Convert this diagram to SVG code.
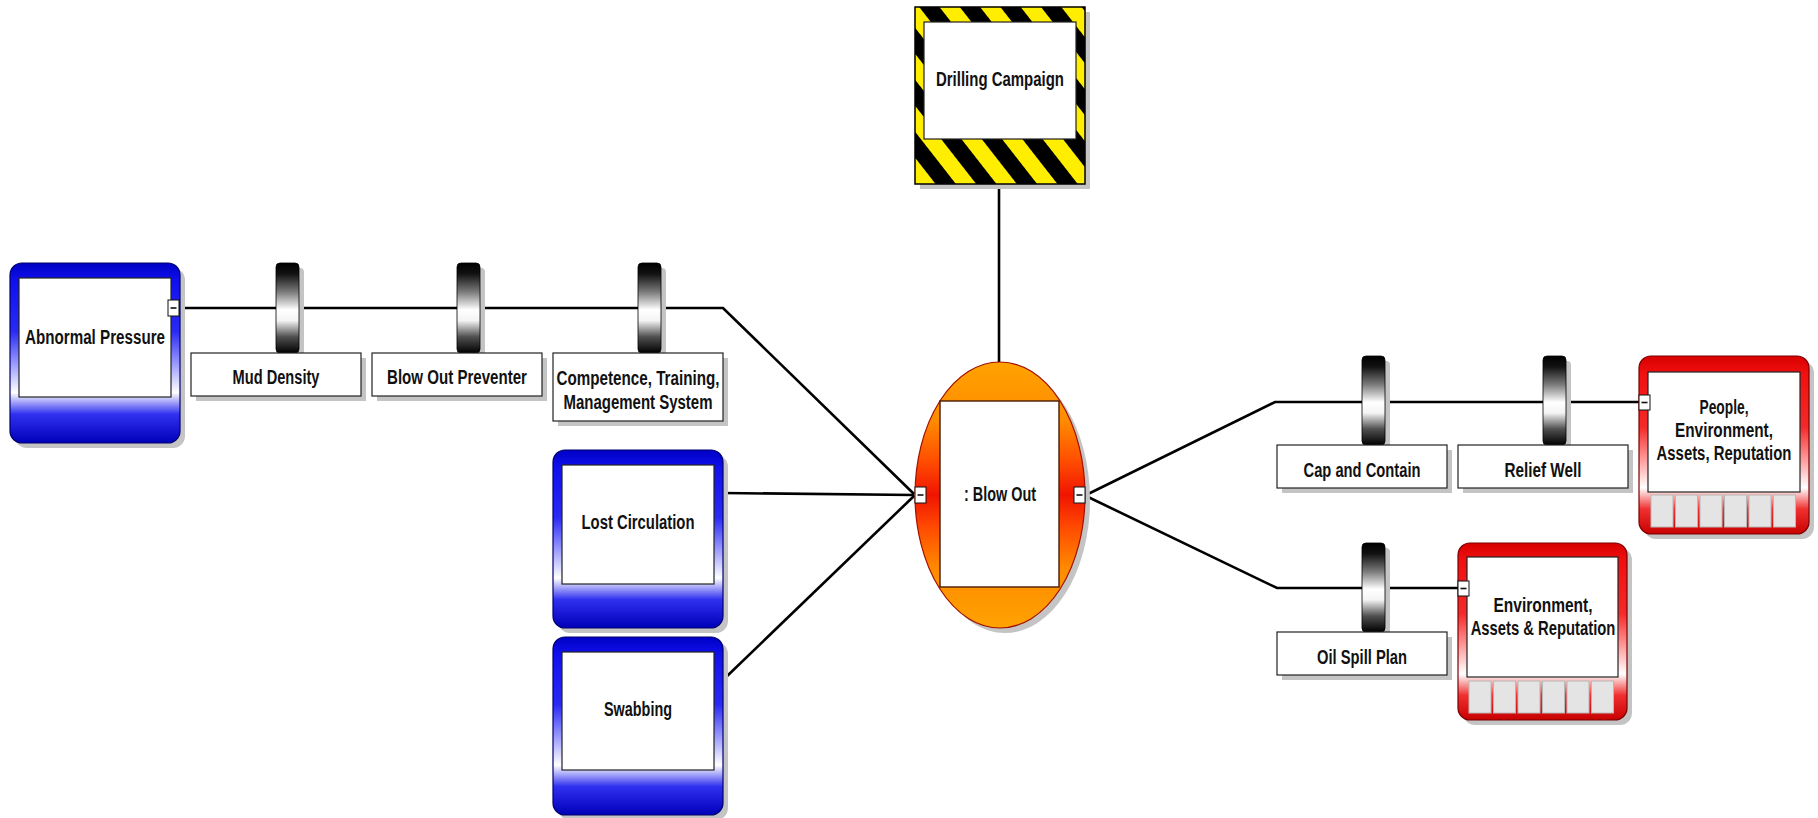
<svg xmlns="http://www.w3.org/2000/svg" width="1818" height="818" viewBox="0 0 1818 818">
<style>
.t{font-family:"Liberation Sans","DejaVu Sans",sans-serif;font-weight:bold;font-size:19.5px;fill:#111;text-anchor:middle}
.sh{fill:#c4c4c4}
.inner{fill:#fff;stroke:#222;stroke-width:1.2}
.lbl{fill:#fff;stroke:#222;stroke-width:1.2}
.bar{fill:url(#gBar);stroke:#000;stroke-width:0.8}
.port{fill:#fff;stroke:#111;stroke-width:1}
.pm{stroke:#111;stroke-width:1.6}
.sq{fill:#e4e4e4;stroke:#b8b8b8;stroke-width:1}
.blue{fill:url(#gBlue);stroke:#00006a;stroke-width:1.2}
.red{fill:url(#gRed);stroke:#7a0000;stroke-width:1.2}
.conn{fill:none;stroke:#000;stroke-width:2.6;stroke-linejoin:miter}
</style>
<defs>
<linearGradient id="gBlue" x1="0" y1="0" x2="0" y2="1">
<stop offset="0" stop-color="#0000c4"/>
<stop offset="0.1" stop-color="#1010ee"/>
<stop offset="0.38" stop-color="#2a2af4"/>
<stop offset="0.56" stop-color="#9a9aff"/>
<stop offset="0.72" stop-color="#ffffff"/>
<stop offset="0.84" stop-color="#3030f0"/>
<stop offset="1" stop-color="#0000b8"/>
</linearGradient>
<linearGradient id="gRed" x1="0" y1="0" x2="0" y2="1">
<stop offset="0" stop-color="#d80000"/>
<stop offset="0.1" stop-color="#f01010"/>
<stop offset="0.4" stop-color="#f42a2a"/>
<stop offset="0.58" stop-color="#ff9a9a"/>
<stop offset="0.74" stop-color="#ffffff"/>
<stop offset="0.86" stop-color="#f03030"/>
<stop offset="1" stop-color="#c80000"/>
</linearGradient>
<linearGradient id="gBar" x1="0" y1="0" x2="0" y2="1">
<stop offset="0" stop-color="#000"/>
<stop offset="0.12" stop-color="#111"/>
<stop offset="0.32" stop-color="#7a7a7a"/>
<stop offset="0.52" stop-color="#ffffff"/>
<stop offset="0.64" stop-color="#f4f4f4"/>
<stop offset="0.82" stop-color="#505050"/>
<stop offset="1" stop-color="#000"/>
</linearGradient>
<linearGradient id="gEll" x1="0" y1="0" x2="0" y2="1">
<stop offset="0" stop-color="#ffa200"/>
<stop offset="0.22" stop-color="#ff8c00"/>
<stop offset="0.38" stop-color="#ff4a00"/>
<stop offset="0.5" stop-color="#f01400"/>
<stop offset="0.62" stop-color="#ff4a00"/>
<stop offset="0.78" stop-color="#ff8c00"/>
<stop offset="1" stop-color="#ffa200"/>
</linearGradient>
<pattern id="haz" patternUnits="userSpaceOnUse" width="32" height="32" patternTransform="rotate(-38)">
<rect x="0" y="0" width="16" height="32" fill="#ffee00"/>
<rect x="16" y="0" width="16" height="32" fill="#000"/>
</pattern>
</defs>
<rect width="1818" height="818" fill="#fff"/>

<g id="connectors">
<polyline class="conn" points="179,308 723,308 914,494"/>
<line class="conn" x1="723" y1="493" x2="914" y2="495"/>
<line class="conn" x1="723" y1="680" x2="914" y2="496"/>
<line class="conn" x1="999" y1="184" x2="999" y2="362"/>
<polyline class="conn" points="1086,495 1275,402 1639,402"/>
<polyline class="conn" points="1086,496 1277,588 1458,588"/>
</g>

<g id="abnormal-pressure">
<rect class="sh" x="15" y="268" width="170" height="180" rx="12"/>
<rect class="blue" x="10" y="263" width="170" height="180" rx="12"/>
<rect class="inner" x="19" y="278" width="152" height="119"/>
<text class="t" x="95" y="344" textLength="140" lengthAdjust="spacingAndGlyphs">Abnormal Pressure</text>
<rect class="port" x="168" y="300" width="11" height="16"/>
<line class="pm" x1="170.5" y1="308" x2="176.5" y2="308"/>
</g>

<g id="mud-density">
<rect class="sh" x="280" y="268" width="24" height="90" rx="4"/>
<rect class="bar" x="276" y="263" width="23" height="90" rx="4"/>
<rect class="sh" x="196" y="358" width="170" height="43"/>
<rect class="lbl" x="191" y="353" width="170" height="43"/>
<text class="t" x="276" y="384" textLength="87" lengthAdjust="spacingAndGlyphs">Mud Density</text>
</g>

<g id="blow-out-preventer">
<rect class="sh" x="461" y="268" width="24" height="90" rx="4"/>
<rect class="bar" x="457" y="263" width="23" height="90" rx="4"/>
<rect class="sh" x="377" y="358" width="170" height="43"/>
<rect class="lbl" x="372" y="353" width="170" height="43"/>
<text class="t" x="457" y="384" textLength="140" lengthAdjust="spacingAndGlyphs">Blow Out Preventer</text>
</g>

<g id="competence">
<rect class="sh" x="642" y="268" width="24" height="90" rx="4"/>
<rect class="bar" x="638" y="263" width="23" height="90" rx="4"/>
<rect class="sh" x="558" y="358" width="170" height="68"/>
<rect class="lbl" x="553" y="353" width="170" height="68"/>
<text class="t" x="638" y="385" textLength="163" lengthAdjust="spacingAndGlyphs">Competence, Training,</text>
<text class="t" x="638" y="409" textLength="149" lengthAdjust="spacingAndGlyphs">Management System</text>
</g>

<g id="lost-circulation">
<rect class="sh" x="558" y="455" width="170" height="178" rx="12"/>
<rect class="blue" x="553" y="450" width="170" height="178" rx="12"/>
<rect class="inner" x="562" y="465" width="152" height="119"/>
<text class="t" x="638" y="529" textLength="113" lengthAdjust="spacingAndGlyphs">Lost Circulation</text>
</g>

<g id="swabbing">
<rect class="sh" x="558" y="642" width="170" height="178" rx="12"/>
<rect class="blue" x="553" y="637" width="170" height="178" rx="12"/>
<rect class="inner" x="562" y="652" width="152" height="118"/>
<text class="t" x="638" y="716" textLength="68" lengthAdjust="spacingAndGlyphs">Swabbing</text>
</g>

<g id="drilling-campaign">
<rect class="sh" x="920" y="12" width="170" height="177"/>
<rect x="915" y="7" width="170" height="177" fill="url(#haz)" stroke="#000" stroke-width="1.5"/>
<rect class="inner" x="924" y="22" width="152" height="117"/>
<text class="t" x="1000" y="86" textLength="128" lengthAdjust="spacingAndGlyphs">Drilling Campaign</text>
</g>

<g id="blow-out">
<ellipse cx="1005" cy="500" rx="85" ry="133" fill="#c4c4c4"/>
<ellipse cx="1000" cy="495" rx="85" ry="133" fill="url(#gEll)" stroke="#a01000" stroke-width="1.2"/>
<rect x="940" y="401" width="119" height="186" fill="#fff" stroke="#4a1a00" stroke-width="1.4"/>
<text class="t" x="1000" y="501" textLength="72" lengthAdjust="spacingAndGlyphs">: Blow Out</text>
<rect class="port" x="915" y="487" width="11" height="16"/>
<line class="pm" x1="917.5" y1="495" x2="923.5" y2="495"/>
<rect class="port" x="1074" y="487" width="11" height="16"/>
<line class="pm" x1="1076.5" y1="495" x2="1082.5" y2="495"/>
</g>

<g id="cap-and-contain">
<rect class="sh" x="1366" y="361" width="24" height="89" rx="4"/>
<rect class="bar" x="1362" y="356" width="23" height="89" rx="4"/>
<rect class="sh" x="1282" y="450" width="170" height="43"/>
<rect class="lbl" x="1277" y="445" width="170" height="43"/>
<text class="t" x="1362" y="477" textLength="117" lengthAdjust="spacingAndGlyphs">Cap and Contain</text>
</g>

<g id="relief-well">
<rect class="sh" x="1547" y="361" width="24" height="89" rx="4"/>
<rect class="bar" x="1543" y="356" width="23" height="89" rx="4"/>
<rect class="sh" x="1463" y="450" width="170" height="43"/>
<rect class="lbl" x="1458" y="445" width="170" height="43"/>
<text class="t" x="1543" y="477" textLength="77" lengthAdjust="spacingAndGlyphs">Relief Well</text>
</g>

<g id="oil-spill-plan">
<rect class="sh" x="1366" y="548" width="24" height="89" rx="4"/>
<rect class="bar" x="1362" y="543" width="23" height="89" rx="4"/>
<rect class="sh" x="1282" y="637" width="170" height="43"/>
<rect class="lbl" x="1277" y="632" width="170" height="43"/>
<text class="t" x="1362" y="664" textLength="90" lengthAdjust="spacingAndGlyphs">Oil Spill Plan</text>
</g>

<g id="people-environment">
<rect class="sh" x="1644" y="361" width="170" height="178" rx="12"/>
<rect class="red" x="1639" y="356" width="170" height="178" rx="12"/>
<rect class="inner" x="1648" y="372" width="152" height="120"/>
<rect class="sq" x="1651" y="495" width="22" height="32"/>
<rect class="sq" x="1675.5" y="495" width="22" height="32"/>
<rect class="sq" x="1700" y="495" width="22" height="32"/>
<rect class="sq" x="1724.5" y="495" width="22" height="32"/>
<rect class="sq" x="1749" y="495" width="22" height="32"/>
<rect class="sq" x="1773.5" y="495" width="22" height="32"/>
<text class="t" x="1724" y="414" textLength="49" lengthAdjust="spacingAndGlyphs">People,</text>
<text class="t" x="1724" y="437" textLength="98" lengthAdjust="spacingAndGlyphs">Environment,</text>
<text class="t" x="0" y="0" transform="translate(1724,460) scale(0.764,1)">Assets, Reputation</text>
<rect class="port" x="1639" y="395" width="11" height="15"/>
<line class="pm" x1="1641.5" y1="402.5" x2="1647.5" y2="402.5"/>
</g>

<g id="environment-assets">
<rect class="sh" x="1463" y="548" width="169" height="177" rx="12"/>
<rect class="red" x="1458" y="543" width="169" height="177" rx="12"/>
<rect class="inner" x="1467" y="557" width="151" height="120"/>
<rect class="sq" x="1469" y="681" width="22" height="32"/>
<rect class="sq" x="1493.5" y="681" width="22" height="32"/>
<rect class="sq" x="1518" y="681" width="22" height="32"/>
<rect class="sq" x="1542.5" y="681" width="22" height="32"/>
<rect class="sq" x="1567" y="681" width="22" height="32"/>
<rect class="sq" x="1591.5" y="681" width="22" height="32"/>
<text class="t" x="1543" y="612" textLength="99" lengthAdjust="spacingAndGlyphs">Environment,</text>
<text class="t" x="0" y="0" transform="translate(1543,635) scale(0.76,1)">Assets &amp; Reputation</text>
<rect class="port" x="1458" y="581" width="11" height="15"/>
<line class="pm" x1="1460.5" y1="588.5" x2="1466.5" y2="588.5"/>
</g>
</svg>
